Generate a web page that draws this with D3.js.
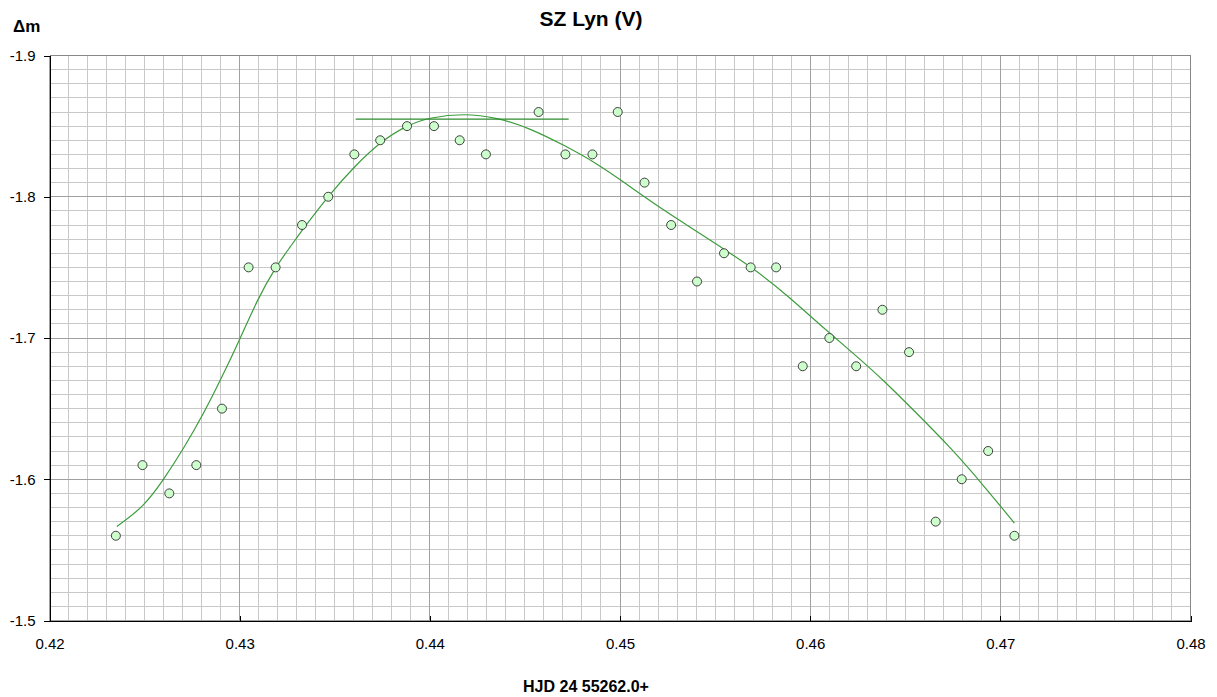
<!DOCTYPE html>
<html>
<head>
<meta charset="utf-8">
<script src="https://cdn.jsdelivr.net/npm/d3@7"></script>
<style>
    body { margin: 0; background: #fff; }
    text { font-family: "Liberation Sans", Arial, sans-serif; }
</style>
</head>
<body>
<svg id="drawing" width="1217" height="697"></svg>
<script>
// observed times (HJD 2455262.0+) and magnitude differences
const hjd = [0.42349, 0.42489, 0.42630, 0.42772, 0.42907, 0.43047, 0.43189, 0.43328, 0.43466,
    0.43603, 0.43739, 0.43880, 0.44022, 0.44157, 0.44295, 0.44572, 0.44713, 0.44855, 0.44988,
    0.45129, 0.45269, 0.45405, 0.45547, 0.45687, 0.45821, 0.45961, 0.46101, 0.46242, 0.46380,
    0.46520, 0.46660, 0.46797, 0.46936, 0.47074]
const dmag = [-1.56, -1.61, -1.59, -1.61, -1.65, -1.75, -1.75, -1.78, -1.80,
    -1.83, -1.84, -1.85, -1.85, -1.84, -1.83, -1.86, -1.83, -1.83, -1.86,
    -1.81, -1.78, -1.74, -1.76, -1.75, -1.75, -1.68, -1.70, -1.68, -1.72,
    -1.69, -1.57, -1.60, -1.62, -1.56]

// fitted curve
const fitX = [0.42354, 0.42494, 0.42600, 0.42705, 0.42810, 0.42898, 0.43003, 0.43091, 0.43189,
    0.43266, 0.43328, 0.43476, 0.43599, 0.43739, 0.43880, 0.44002, 0.44178, 0.44353, 0.44528,
    0.44704, 0.44879, 0.45028, 0.45177, 0.45353, 0.45528, 0.45703, 0.45879, 0.46054, 0.46229,
    0.46387, 0.46562, 0.46738, 0.46913, 0.47074]
const fitY = [-1.5666, -1.5802, -1.5997, -1.6216, -1.6464, -1.6700, -1.6996, -1.7267, -1.7503,
    -1.7645, -1.7763, -1.8023, -1.8208, -1.8389, -1.8507, -1.8562, -1.8590, -1.8562, -1.8484,
    -1.8366, -1.8236, -1.8096, -1.7953, -1.7799, -1.7645, -1.7492, -1.7303, -1.7090, -1.6889,
    -1.6700, -1.6464, -1.6225, -1.5955, -1.5689]

// maximum level marker
const maxLevel = -1.855
const maxSpan = [0.4361, 0.4473]

const xTicks = [0.42, 0.43, 0.44, 0.45, 0.46, 0.47, 0.48]
const yTicks = [-1.9, -1.8, -1.7, -1.6, -1.5]

const margin = {
    top: 55.5,
    right: 26.5,
    bottom: 76.5,
    left: 49.5
}
const W = 1217
const H = 697

const x = d3.scaleLinear()
    .domain([0.42, 0.48])
    .range([margin.left, W - margin.right])

const y = d3.scaleLinear()
    .domain([-1.5, -1.9])
    .range([H - margin.bottom, margin.top])

const svg = d3.select('#drawing')

// grid
const minorX = d3.range(0, 61).map(i => 0.42 + i * 0.001)
const minorY = d3.range(0, 41).map(i => -1.9 + i * 0.01)

const grid = svg.append("g").attr("shape-rendering", "crispEdges")
grid.selectAll(".vx").data(minorX).join("line")
    .attr("x1", d => x(d)).attr("x2", d => x(d))
    .attr("y1", y(-1.9)).attr("y2", y(-1.5))
    .attr("stroke", "#c8c8c8")
grid.selectAll(".hy").data(minorY).join("line")
    .attr("x1", x(0.42)).attr("x2", x(0.48))
    .attr("y1", d => y(d)).attr("y2", d => y(d))
    .attr("stroke", "#c8c8c8")
grid.selectAll(".mx").data(xTicks).join("line")
    .attr("x1", d => x(d)).attr("x2", d => x(d))
    .attr("y1", y(-1.9)).attr("y2", y(-1.5))
    .attr("stroke", "#a0a0a0")
grid.selectAll(".my").data(yTicks).join("line")
    .attr("x1", x(0.42)).attr("x2", x(0.48))
    .attr("y1", d => y(d)).attr("y2", d => y(d))
    .attr("stroke", "#a0a0a0")

// top/right frame
grid.append("path")
    .attr("d", `M${x(0.42)},${y(-1.9)}H${x(0.48)}V${y(-1.5)}`)
    .attr("fill", "none")
    .attr("stroke", "#888888")

const xAxis = g => g
    .attr("transform", `translate(0,${y(-1.5)})`)
    .call(d3.axisBottom(x).tickValues(xTicks).tickSize(-5).tickPadding(18)
        .tickFormat(d => d.toFixed(2)))
    .call(g => g.select(".domain").attr("stroke", "#000"))
    .call(g => g.selectAll(".tick line").attr("stroke", "#000"))
    .call(g => g.selectAll(".tick text")
        .attr("font-size", 15)
        .attr("font-family", "Liberation Sans, Arial, sans-serif")
        .attr("fill", "#000"))

const yAxis = g => g
    .attr("transform", `translate(${x(0.42)},0)`)
    .call(d3.axisLeft(y).tickValues(yTicks).tickSize(6).tickPadding(8)
        .tickFormat(d => d.toFixed(1)))
    .call(g => g.select(".domain").attr("stroke", "#000"))
    .call(g => g.selectAll(".tick line").attr("stroke", "#000"))
    .call(g => g.selectAll(".tick text")
        .attr("font-size", 15)
        .attr("font-family", "Liberation Sans, Arial, sans-serif")
        .attr("fill", "#000"))

svg.append("g").attr("shape-rendering", "crispEdges").call(xAxis)
svg.append("g").attr("shape-rendering", "crispEdges").call(yAxis)

// fitted curve
const line = d3.line()
    .x(d => x(d[0]))
    .y(d => y(d[1]))
    .curve(d3.curveBasis)

svg.append("path")
    .datum(d3.zip(fitX, fitY))
    .attr("d", line)
    .attr("fill", "none")
    .attr("stroke", "#3c9c3c")
    .attr("stroke-width", 1.2)

svg.append("line")
    .attr("x1", x(maxSpan[0])).attr("x2", x(maxSpan[1]))
    .attr("y1", y(maxLevel)).attr("y2", y(maxLevel))
    .attr("stroke", "#2e8b2e")
    .attr("stroke-width", 1.2)

// observations
svg.append("g")
    .selectAll("circle")
    .data(d3.zip(hjd, dmag))
    .join("circle")
    .attr("cx", d => x(d[0]))
    .attr("cy", d => y(d[1]))
    .attr("r", 4.5)
    .attr("fill", "#ccffcc")
    .attr("stroke", "#404040")
    .attr("stroke-width", 1)

// titles
svg.append("text")
    .attr("x", 591)
    .attr("y", 26)
    .attr("text-anchor", "middle")
    .attr("font-weight", "bold")
    .attr("font-size", 21)
    .text("SZ Lyn (V)")

svg.append("text")
    .attr("x", 13)
    .attr("y", 31.5)
    .attr("font-weight", "bold")
    .attr("font-size", 17)
    .text("Δm")

svg.append("text")
    .attr("x", 586)
    .attr("y", 691.5)
    .attr("text-anchor", "middle")
    .attr("font-weight", "bold")
    .attr("font-size", 16)
    .text("HJD 24 55262.0+")
</script>
</body>
</html>
